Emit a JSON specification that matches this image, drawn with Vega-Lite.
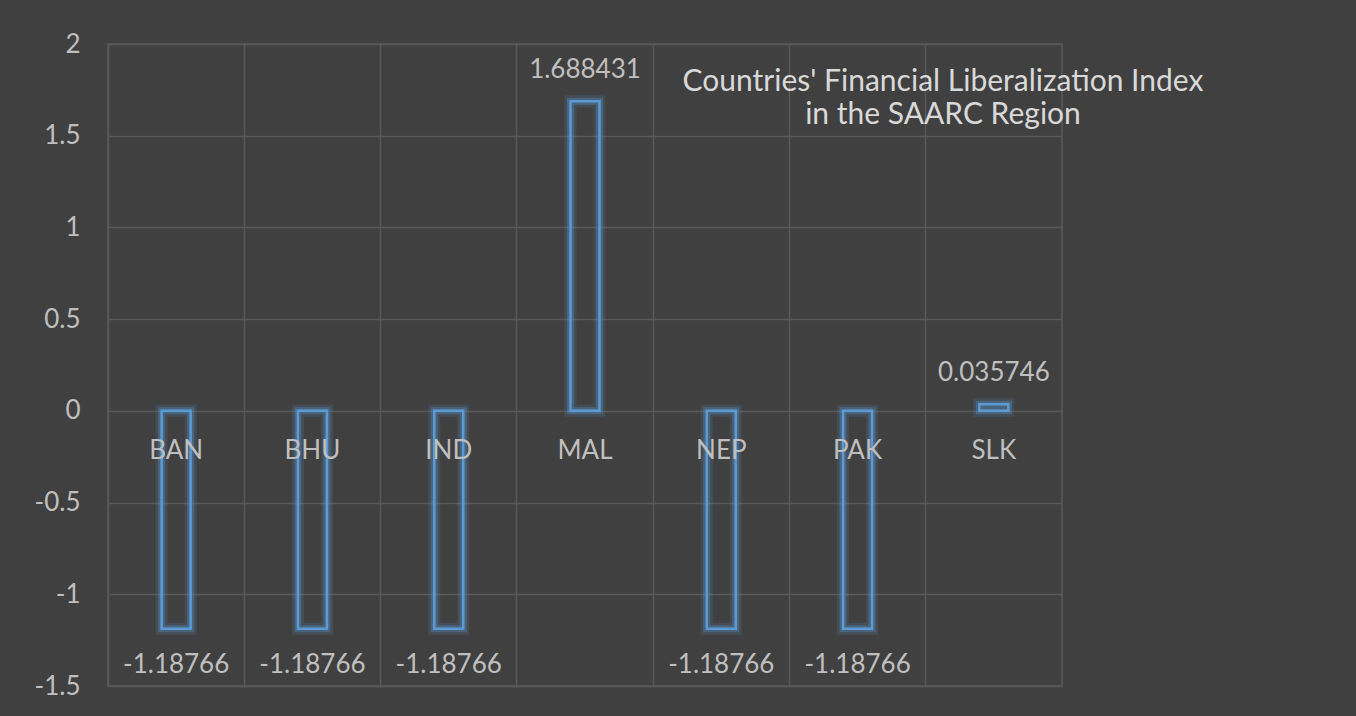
{
  "$schema": "https://vega.github.io/schema/vega-lite/v6.json",
  "autosize": "none",
  "width": 954,
  "height": 642,
  "padding": {"left": 108, "top": 44, "right": 294, "bottom": 30},
  "background": "#404040",
  "config": {
    "view": {"stroke": "#595959", "strokeWidth": 1.5},
    "font": "Lato"
  },
  "title": {
    "text": ["Countries' Financial Liberalization Index", "in the SAARC Region"],
    "font": "Lato",
    "fontSize": 30,
    "fontWeight": "normal",
    "color": "#d9d9d9",
    "anchor": "middle",
    "frame": "group",
    "baseline": "top",
    "offset": 0,
    "dx": 358,
    "dy": 99,
    "lineHeight": 33
  },
  "data": {
    "values": [
      {"country": "BAN", "value": -1.18766},
      {"country": "BHU", "value": -1.18766},
      {"country": "IND", "value": -1.18766},
      {"country": "MAL", "value": 1.688431},
      {"country": "NEP", "value": -1.18766},
      {"country": "PAK", "value": -1.18766},
      {"country": "SLK", "value": 0.035746}
    ]
  },
  "encoding": {
    "x": {
      "field": "country",
      "type": "nominal",
      "sort": null,
      "scale": {"paddingInner": 0, "paddingOuter": 0},
      "axis": {
        "title": null,
        "labels": false,
        "ticks": false,
        "domain": false,
        "grid": true,
        "bandPosition": 0,
        "gridColor": "#595959",
        "gridWidth": 1.5
      }
    }
  },
  "layer": [
    {
      "mark": {"type": "bar", "width": 29, "fill": null, "filled": false, "stroke": "#5B9BD5", "strokeWidth": 12, "strokeOpacity": 0.15},
      "encoding": {
        "y": {
          "field": "value",
          "type": "quantitative",
          "scale": {"domain": [-1.5, 2], "nice": false, "zero": false},
          "axis": {
            "title": null,
            "values": [-1.5, -1, -0.5, 0, 0.5, 1, 1.5, 2],
            "labelExpr": "datum.value + ''",
            "domain": false,
            "ticks": false,
            "labelPadding": 28,
            "labelFont": "Lato",
            "labelFontSize": 26,
            "labelColor": "#bfbfbf",
            "gridColor": "#595959",
            "gridWidth": 1.5
          }
        },
        "y2": {"datum": 0}
      }
    },
    {
      "mark": {"type": "bar", "width": 29, "fill": null, "filled": false, "stroke": "#5B9BD5", "strokeWidth": 7, "strokeOpacity": 0.3},
      "encoding": {
        "y": {"field": "value", "type": "quantitative"},
        "y2": {"datum": 0}
      }
    },
    {
      "mark": {"type": "bar", "width": 29, "fill": null, "filled": false, "stroke": "#5B9BD5", "strokeWidth": 2.5},
      "encoding": {
        "y": {"field": "value", "type": "quantitative"},
        "y2": {"datum": 0}
      }
    },
    {
      "mark": {"type": "text", "font": "Lato", "fontSize": 26, "color": "#bfbfbf", "baseline": "middle", "dy": 2},
      "encoding": {
        "y": {"datum": -0.21},
        "text": {"field": "country", "type": "nominal"}
      }
    },
    {
      "transform": [{"filter": "datum.value >= 0"}],
      "mark": {"type": "text", "font": "Lato", "fontSize": 26, "color": "#bfbfbf", "baseline": "middle", "dy": -31},
      "encoding": {
        "y": {"field": "value", "type": "quantitative"},
        "text": {"field": "value", "type": "nominal"}
      }
    },
    {
      "transform": [{"filter": "datum.value < 0"}],
      "mark": {"type": "text", "font": "Lato", "fontSize": 26, "color": "#bfbfbf", "baseline": "middle", "dy": 36},
      "encoding": {
        "y": {"field": "value", "type": "quantitative"},
        "text": {"field": "value", "type": "nominal"}
      }
    }
  ]
}
